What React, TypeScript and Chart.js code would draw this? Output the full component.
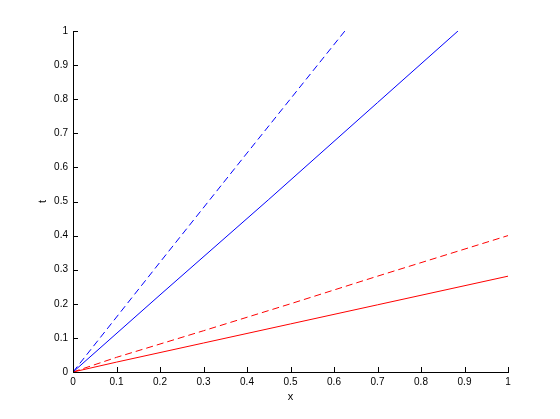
import React, { useEffect, useRef } from "react";
import { Chart, registerables } from "chart.js";

Chart.register(...registerables);

const blueDashedX = [0, 0.2, 0.4, 0.625];
const blueDashedT = [0, 0.322, 0.642, 1];
const blueSolidX = [0, 0.2, 0.45, 0.7, 0.885];
const blueSolidT = [0, 0.226, 0.506, 0.79, 1];
const redDashedX = [0, 0.1, 0.3, 0.5, 0.7, 1];
const redDashedT = [0, 0.043, 0.121, 0.2, 0.281, 0.4];
const redSolidX = [0, 0.1, 0.3, 0.5, 0.7, 1];
const redSolidT = [0, 0.029, 0.085, 0.141, 0.197, 0.281];
const xTitle = "x";
const yTitle = "t";

const pts = (xs: number[], ys: number[]) => xs.map((x, i) => ({ x, y: ys[i] }));
const fmt = (v: any) => String(Number(Number(v).toFixed(1)));

const FONT = '"Liberation Sans", Arial, sans-serif';

const matlabAxes = {
  id: "matlabAxes",
  afterDraw(chart: any) {
    const ctx = chart.ctx;
    const xs = chart.scales.x;
    const ys = chart.scales.y;
    const area = chart.chartArea;
    ctx.save();
    ctx.strokeStyle = "#000";
    ctx.lineWidth = 1;
    ctx.beginPath();
    xs.ticks.forEach((t: any) => {
      const px = Math.round(xs.getPixelForValue(t.value)) + 0.5;
      ctx.moveTo(px, area.bottom);
      ctx.lineTo(px, area.bottom - 5);
    });
    ys.ticks.forEach((t: any) => {
      const py = Math.round(ys.getPixelForValue(t.value)) + 0.5;
      ctx.moveTo(area.left, py);
      ctx.lineTo(area.left + 5, py);
    });
    ctx.stroke();
    ctx.fillStyle = "#000";
    ctx.font = `11px ${FONT}`;
    ctx.textAlign = "center";
    ctx.textBaseline = "middle";
    ctx.fillText(xTitle, (area.left + area.right) / 2, 397);
    ctx.translate(43, (area.top + area.bottom) / 2);
    ctx.rotate(-Math.PI / 2);
    ctx.fillText(yTitle, 0, 0);
    ctx.restore();
  },
};

export default function App() {
  const ref = useRef<HTMLCanvasElement>(null);
  useEffect(() => {
    if (!ref.current) return;
    const mk = (label: string, data: any, color: string, dash: number[]) => ({
      label,
      data,
      borderColor: color,
      backgroundColor: color,
      borderWidth: 1,
      borderDash: dash,
      pointRadius: 0,
      tension: 0,
      fill: false,
    });
    const chart = new Chart(ref.current, {
      type: "line",
      data: {
        datasets: [
          mk("blue dashed", pts(blueDashedX, blueDashedT), "#0000ff", [7, 4]),
          mk("blue solid", pts(blueSolidX, blueSolidT), "#0000ff", []),
          mk("red dashed", pts(redDashedX, redDashedT), "#ff0000", [7, 4]),
          mk("red solid", pts(redSolidX, redSolidT), "#ff0000", []),
        ],
      },
      options: {
        animation: false,
        responsive: false,
        maintainAspectRatio: false,
        layout: { padding: { top: 31, right: 52, left: 0, bottom: 0 } },
        plugins: { legend: { display: false }, tooltip: { enabled: false } },
        scales: {
          x: {
            type: "linear",
            min: 0,
            max: 1,
            afterFit: (s: any) => {
              s.height = 47;
            },
            border: { display: true, color: "#000", width: 1 },
            grid: { display: true, drawOnChartArea: false, drawTicks: false, color: "rgba(0,0,0,0)" },
            ticks: { stepSize: 0.1, color: "#000", padding: 4, font: { family: FONT, size: 10 }, maxRotation: 0, autoSkip: false, callback: fmt },
          },
          y: {
            type: "linear",
            min: 0,
            max: 1,
            afterFit: (s: any) => {
              s.width = 73;
            },
            border: { display: true, color: "#000", width: 1 },
            grid: { display: true, drawOnChartArea: false, drawTicks: false, color: "rgba(0,0,0,0)" },
            ticks: { stepSize: 0.1, color: "#000", padding: 5, font: { family: FONT, size: 10 }, autoSkip: false, callback: fmt },
          },
        },
      },
      plugins: [matlabAxes],
    } as any);
    return () => chart.destroy();
  }, []);
  return (
    <div style={{ position: "absolute", left: 0, top: 0, width: 560, height: 419, background: "#fff" }}>
      <canvas ref={ref} width={560} height={419} style={{ width: 560, height: 419 }} />
    </div>
  );
}
